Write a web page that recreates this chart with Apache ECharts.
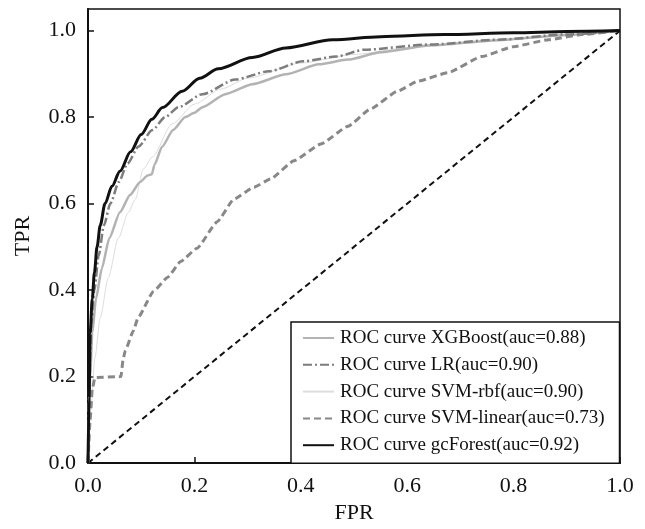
<!DOCTYPE html>
<html>
<head>
<meta charset="utf-8">
<script src="https://cdn.jsdelivr.net/npm/echarts@6/dist/echarts.min.js"></script>
<style>
html,body{margin:0;padding:0;background:#fff;}
#chart{width:645px;height:529px;}
</style>
</head>
<body>
<div id="chart"></div>
<script>
// ---- data (FPR, TPR pairs) ----
const xgboost = [[0,0],[0.002,0.12],[0.004,0.2],[0.008,0.3],[0.015,0.38],[0.026,0.45],[0.04,0.52],[0.06,0.58],[0.079,0.62],[0.098,0.65],[0.112,0.665],[0.12,0.668],[0.125,0.69],[0.139,0.731],[0.16,0.77],[0.183,0.80],[0.2,0.81],[0.215,0.823],[0.258,0.853],[0.309,0.876],[0.372,0.899],[0.434,0.922],[0.489,0.933],[0.55,0.95],[0.645,0.966],[0.77,0.978],[0.9,0.99],[1,1]];
const lr = [[0,0],[0.003,0.2],[0.006,0.32],[0.012,0.4],[0.02,0.48],[0.03,0.55],[0.042,0.6],[0.058,0.65],[0.074,0.692],[0.095,0.732],[0.121,0.77],[0.145,0.8],[0.17,0.823],[0.215,0.853],[0.277,0.887],[0.34,0.906],[0.404,0.929],[0.466,0.94],[0.52,0.956],[0.645,0.968],[0.77,0.979],[0.896,0.991],[1,1]];
const svmRbf = [[0,0],[0.005,0.12],[0.013,0.244],[0.023,0.336],[0.038,0.428],[0.057,0.52],[0.076,0.58],[0.089,0.61],[0.104,0.68],[0.121,0.708],[0.158,0.784],[0.2,0.83],[0.25,0.865],[0.3,0.89],[0.4,0.925],[0.5,0.945],[0.6,0.96],[0.7,0.97],[0.8,0.98],[0.9,0.99],[1,1]];
const svmLinear = [[0,0],[0.004,0.1],[0.008,0.17],[0.013,0.198],[0.062,0.2],[0.066,0.24],[0.07,0.26],[0.085,0.305],[0.094,0.336],[0.123,0.397],[0.15,0.43],[0.174,0.466],[0.205,0.497],[0.243,0.558],[0.274,0.61],[0.312,0.638],[0.343,0.657],[0.387,0.699],[0.438,0.738],[0.489,0.779],[0.53,0.818],[0.582,0.86],[0.62,0.883],[0.677,0.903],[0.74,0.94],[0.80,0.963],[0.866,0.979],[0.928,0.991],[1,1]];
const gcForest = [[0,0],[0.002,0.15],[0.004,0.3],[0.008,0.38],[0.012,0.44],[0.017,0.5],[0.023,0.55],[0.032,0.6],[0.045,0.64],[0.06,0.675],[0.08,0.72],[0.1,0.76],[0.12,0.795],[0.14,0.822],[0.177,0.86],[0.21,0.89],[0.245,0.912],[0.309,0.938],[0.372,0.96],[0.46,0.979],[0.55,0.986],[0.67,0.991],[0.8,0.995],[0.9,0.998],[1,1]];
const chance = [[0,0],[1,1]];
const seriesNames = ['ROC curve XGBoost(auc=0.88)','ROC curve LR(auc=0.90)','ROC curve SVM-rbf(auc=0.90)','ROC curve SVM-linear(auc=0.73)','ROC curve gcForest(auc=0.92)'];
const xTicks = [0, 0.2, 0.4, 0.6, 0.8, 1.0];
const yTicks = [0, 0.2, 0.4, 0.6, 0.8, 1.0];

const FONT = '"Liberation Serif","Times New Roman",serif';
const chart = echarts.init(document.getElementById('chart'), null, {renderer:'canvas'});

function lineSeries(name, data, color, width, type, z, smooth){
  return {name, type:'line', data, showSymbol:false, symbol:'none', animation:false, z:z||2,
    smooth: smooth||false, smoothMonotone:'x',
    lineStyle:{color, width, type}, itemStyle:{color}};
}

chart.setOption({
  backgroundColor:'#fff',
  animation:false,
  grid:{left:88, top:9, right:25, bottom:63, show:true, borderColor:'#111', borderWidth:1.5, backgroundColor:'transparent'},
  xAxis:{type:'value', min:xTicks[0], max:xTicks[xTicks.length-1], interval:0.2,
    name:'FPR', nameLocation:'middle', nameGap:36,
    nameTextStyle:{fontFamily:FONT, fontSize:22, color:'#111'},
    axisLine:{show:true, onZero:false, lineStyle:{color:'#111', width:2}},
    axisTick:{show:true, inside:true, length:6, lineStyle:{color:'#111', width:1.5}},
    axisLabel:{fontFamily:FONT, fontSize:22, color:'#111', margin:12, formatter:v=>v.toFixed(1)},
    splitLine:{show:false}},
  yAxis:{type:'value', min:yTicks[0], max:1.05, interval:0.2,
    name:'TPR', nameLocation:'middle', nameGap:54,
    nameTextStyle:{fontFamily:FONT, fontSize:22, color:'#111'},
    axisLine:{show:true, onZero:false, lineStyle:{color:'#111', width:2}},
    axisTick:{show:true, inside:true, length:6, lineStyle:{color:'#111', width:1.5}},
    axisLabel:{fontFamily:FONT, fontSize:22, color:'#111', margin:12, showMaxLabel:false,
      formatter:v=> (v>1.001 ? '' : v.toFixed(1))},
    splitLine:{show:false}},
  legend:{show:true, data:seriesNames, orient:'vertical', left:291, top:322,
    borderColor:'#111', borderWidth:1.5, padding:[6,15,8,11], backgroundColor:'#fff',
    itemWidth:31, itemHeight:14, itemGap:6.8,
    itemStyle:{opacity:0},
    textStyle:{fontFamily:FONT, fontSize:19, color:'#111', lineHeight:20, padding:[0,0,0,1]},
    selectedMode:false},
  series:[
    lineSeries(seriesNames[0], xgboost, '#b3b3b3', 2.5, 'solid', 3, 0.2),
    lineSeries(seriesNames[1], lr, '#7d7d7d', 2.5, [9,3,2,3], 4, 0.25),
    lineSeries(seriesNames[2], svmRbf, '#dcdcdc', 1, 'solid', 2, 0.25),
    lineSeries(seriesNames[3], svmLinear, '#888888', 3, [7,4], 3, 0.15),
    lineSeries(seriesNames[4], gcForest, '#111111', 3, 'solid', 5, 0.3),
    lineSeries('chance', chance, '#111111', 2, [6,4], 1)
  ]
});
</script>
</body>
</html>
